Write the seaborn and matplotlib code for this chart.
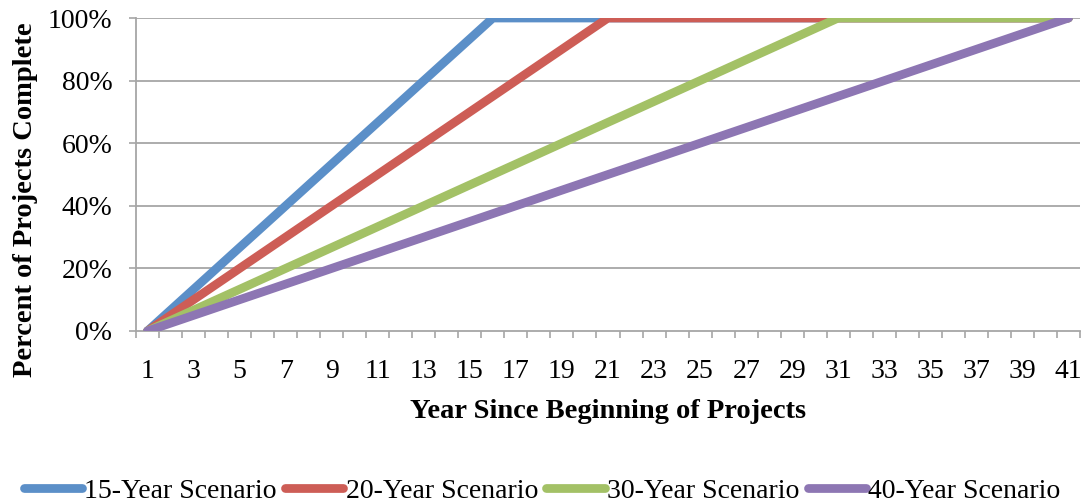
import matplotlib
matplotlib.use("Agg")
import matplotlib.pyplot as plt
import matplotlib.ticker as mticker
import seaborn as sns
import pandas as pd

# Cumulative share of projects finished (%) for each year since start, years 1..41
years = list(range(1, 42))
scenario_names = ["15-Year Scenario", "20-Year Scenario", "30-Year Scenario", "40-Year Scenario"]

pct_15yr = [0, 6.67, 13.33, 20, 26.67, 33.33, 40, 46.67, 53.33, 60, 66.67, 73.33, 80, 86.67, 93.33, 100,
            100, 100, 100, 100, 100, 100, 100, 100, 100, 100, 100, 100, 100, 100, 100,
            100, 100, 100, 100, 100, 100, 100, 100, 100, 100]
pct_20yr = [0, 5, 10, 15, 20, 25, 30, 35, 40, 45, 50, 55, 60, 65, 70, 75, 80, 85, 90, 95, 100,
            100, 100, 100, 100, 100, 100, 100, 100, 100, 100,
            100, 100, 100, 100, 100, 100, 100, 100, 100, 100]
pct_30yr = [0, 3.33, 6.67, 10, 13.33, 16.67, 20, 23.33, 26.67, 30, 33.33, 36.67, 40, 43.33, 46.67, 50,
            53.33, 56.67, 60, 63.33, 66.67, 70, 73.33, 76.67, 80, 83.33, 86.67, 90, 93.33, 96.67, 100,
            100, 100, 100, 100, 100, 100, 100, 100, 100, 100]
pct_40yr = [0, 2.5, 5, 7.5, 10, 12.5, 15, 17.5, 20, 22.5, 25, 27.5, 30, 32.5, 35, 37.5, 40, 42.5, 45, 47.5, 50,
            52.5, 55, 57.5, 60, 62.5, 65, 67.5, 70, 72.5, 75, 77.5, 80, 82.5, 85, 87.5, 90, 92.5, 95, 97.5, 100]

y_ticks = [0, 20, 40, 60, 80, 100]
x_label_years = list(range(1, 42, 2))

colors = ["#5B8FC8", "#CD5D56", "#A3C166", "#8D76B3"]

sns.set_theme(style="white")
plt.rcParams["font.family"] = ["Liberation Serif", "DejaVu Serif"]
plt.rcParams["text.color"] = "black"
plt.rcParams["axes.labelcolor"] = "black"
plt.rcParams["xtick.labelcolor"] = "black"
plt.rcParams["ytick.labelcolor"] = "black"

frames = []
for name, vals in zip(scenario_names, [pct_15yr, pct_20yr, pct_30yr, pct_40yr]):
    frames.append(pd.DataFrame({"Year": years, "Percent": vals, "Scenario": name}))
df = pd.concat(frames, ignore_index=True)

fig = plt.figure(figsize=(10.84, 5.04), dpi=100)
ax = fig.add_axes([136 / 1084, 1 - 331 / 504, (1080 - 136) / 1084, (331 - 18) / 504])

grid_color = "#A6A6A6"
for v in y_ticks[1:]:
    ax.axhline(v, color=grid_color, lw=1.3, zorder=0)

line_w = 6.3
sns.lineplot(data=df, x="Year", y="Percent", hue="Scenario", hue_order=scenario_names,
             palette=colors, linewidth=line_w, ax=ax, legend=True,
             solid_capstyle="round", solid_joinstyle="round", zorder=3)

ax.set_xlim(0.5, 41.5)
ax.set_ylim(0, 100)

# Category boundaries carry the tick marks; odd years carry the labels
ax.xaxis.set_major_locator(mticker.FixedLocator([y + 0.5 for y in range(0, 42)]))
ax.xaxis.set_major_formatter(mticker.NullFormatter())
ax.xaxis.set_minor_locator(mticker.FixedLocator(x_label_years))
ax.xaxis.set_minor_formatter(mticker.FixedFormatter([str(y) for y in x_label_years]))
ax.tick_params(axis="x", which="major", direction="out", length=5, width=1.2, color=grid_color, bottom=True)
ax.tick_params(axis="x", which="minor", length=0, pad=20, labelsize=20, labelcolor="black", bottom=True)

ax.set_yticks(y_ticks)
ax.yaxis.set_major_formatter(mticker.FuncFormatter(lambda v, p: f"{int(v)}%"))
ax.tick_params(axis="y", direction="out", length=5, width=1.2, color=grid_color, pad=12, labelsize=20,
               labelcolor="black", left=True)

for side in ["top", "right"]:
    ax.spines[side].set_visible(False)
for side in ["left", "bottom"]:
    ax.spines[side].set_color(grid_color)
    ax.spines[side].set_linewidth(1.3)

ax.set_xlabel("Year Since Beginning of Projects", fontsize=20.5, fontweight="bold", labelpad=11, color="black")
ax.set_ylabel("Percent of Projects Complete", fontsize=20.5, fontweight="bold", color="black")
ax.yaxis.set_label_coords(-0.104, 0.42)

handles, labels = ax.get_legend_handles_labels()
ax.legend_.remove()
for h in handles:
    h.set_linewidth(line_w)
    h.set_solid_capstyle("round")
leg = fig.legend(handles, labels, loc="center", bbox_to_anchor=(0.5, 1 - 491 / 504), ncol=4,
                 frameon=False, fontsize=20, handlelength=2.1, handletextpad=0.08, columnspacing=0.3,
                 borderaxespad=0)
for t in leg.get_texts():
    t.set_color("black")

fig.savefig("out.png", dpi=100)
